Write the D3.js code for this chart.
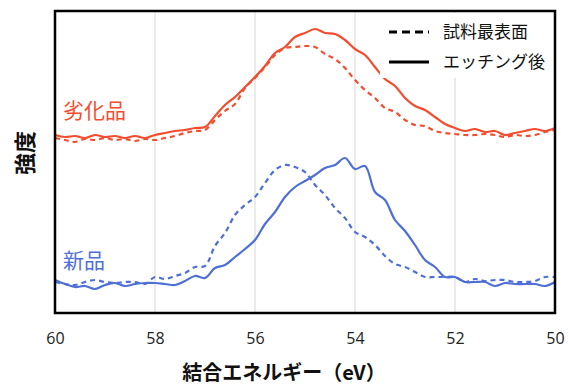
<!DOCTYPE html>
<html><head><meta charset="utf-8">
<script src="https://cdn.jsdelivr.net/npm/d3@7"></script>
<style>html,body{margin:0;padding:0;background:#fff;}svg{display:block;}</style>
</head><body>
<svg id="chart" width="568" height="388"></svg>
<script>
// Binding energy grid (eV), 60 -> 50 in 0.2 eV steps
const energy = d3.range(0, 51).map(i => +(60 - i * 0.2).toFixed(1));
const xTicks = [60, 58, 56, 54, 52, 50];
const gridTicks = [58, 56, 54, 52];

// Intensity (arbitrary units)
const degradedEtched = [178,176,177,175,178,176,177,175,177,175,178,180,182,183,185,186,197,208,216,226,236,247,260,266,276,280,284,280,279,273,264,258,246,234,227,215,207,203,196,189,185,182,184,181,182,178,180,182,184,182,185];
const degradedSurface = [175,173,171,174,173,175,173,174,172,174,173,175,177,180,182,183,193,202,209,225,235,246,258,265,266,267,266,259,254,245,233,223,215,205,201,193,188,187,182,180,179,178,178,179,178,176,178,177,178,181,183];
const newEtched = [33,29,26,27,24,28,30,27,29,30,30,29,28,32,37,35,45,48,56,64,73,89,101,116,126,132,138,145,148,155,144,147,121,113,93,82,68,53,46,36,36,31,31,31,27,30,29,29,29,27,31];
const newSurface = [31,29,28,31,33,31,30,31,31,29,36,34,37,40,46,47,67,80,98,108,116,130,143,148,146,141,128,118,105,95,81,76,68,57,49,46,41,36,36,36,36,31,34,32,33,33,31,31,32,36,36];

const legendLabels = ["試料最表面", "エッチング後"];
const sampleLabels = ["劣化品", "新品"];
const xTitle = "結合エネルギー（eV）";
const yTitle = "強度";

const RED = "#f44c2e", BLUE = "#4e6fd6";
const svg = d3.select("#chart");
const L = 55, R = 555, T = 11, B = 313;
const x = d3.scaleLinear().domain([60, 50]).range([L, R]);
const y = d3.scaleLinear().domain([0, 302]).range([B, T]);
const font = "'Noto Sans CJK JP','Noto Sans',sans-serif";

// gridlines
svg.append("g").selectAll("line").data(gridTicks).join("line")
  .attr("x1", d => x(d)).attr("x2", d => x(d)).attr("y1", T).attr("y2", B)
  .attr("stroke", "#e4e4e4").attr("stroke-width", 1.5);

const line = d3.line().x(d => x(d[0])).y(d => y(d[1])).curve(d3.curveCatmullRom.alpha(0.5));
const series = [
  {v: degradedSurface, c: RED, dash: "5,4"},
  {v: degradedEtched, c: RED, dash: null},
  {v: newSurface, c: BLUE, dash: "5,4"},
  {v: newEtched, c: BLUE, dash: null}
];
svg.append("g").selectAll("path").data(series).join("path")
  .attr("d", s => line(energy.map((e, i) => [e, s.v[i]])))
  .attr("fill", "none").attr("stroke", s => s.c).attr("stroke-width", 2.2)
  .attr("stroke-dasharray", s => s.dash).attr("stroke-linejoin", "round");

// legend
const lg = svg.append("g");
lg.append("rect").attr("x", 380).attr("y", 13).attr("width", 170).attr("height", 65).attr("fill", "#fff");
legendLabels.forEach((t, i) => {
  const yy = 32 + i * 30;
  lg.append("line").attr("x1", 389).attr("x2", 429).attr("y1", yy).attr("y2", yy)
    .attr("stroke", "#000").attr("stroke-width", 3).attr("stroke-dasharray", i === 0 ? "8,5" : null);
  lg.append("text").attr("x", 443).attr("y", yy + 6).text(t)
    .attr("font-family", font).attr("font-size", 17).attr("fill", "#111");
});

// sample labels
svg.append("text").attr("x", 63).attr("y", 118).text(sampleLabels[0])
  .attr("font-family", font).attr("font-size", 21).attr("fill", RED);
svg.append("text").attr("x", 63).attr("y", 268).text(sampleLabels[1])
  .attr("font-family", font).attr("font-size", 21).attr("fill", BLUE);

// frame
svg.append("rect").attr("x", L).attr("y", T).attr("width", R - L).attr("height", B - T)
  .attr("fill", "none").attr("stroke", "#000").attr("stroke-width", 2.5);

// x axis
const ax = svg.append("g").attr("transform", `translate(0,${B})`)
  .call(d3.axisBottom(x).tickValues(xTicks).tickSize(0).tickPadding(20).tickFormat(d3.format("d")));
ax.select(".domain").remove();
ax.selectAll("text").attr("font-family", "'Open Sans','Noto Sans',sans-serif").attr("font-size", 16).attr("fill", "#222");

svg.append("text").attr("x", 284).attr("y", 380).attr("text-anchor", "middle").text(xTitle)
  .attr("font-family", font).attr("font-size", 20).attr("font-weight", "bold").attr("fill", "#111");
svg.append("text").attr("transform", "translate(33,153) rotate(-90)").attr("text-anchor", "middle").text(yTitle)
  .attr("font-family", font).attr("font-size", 22).attr("font-weight", "bold").attr("fill", "#111");
</script>
</body></html>
